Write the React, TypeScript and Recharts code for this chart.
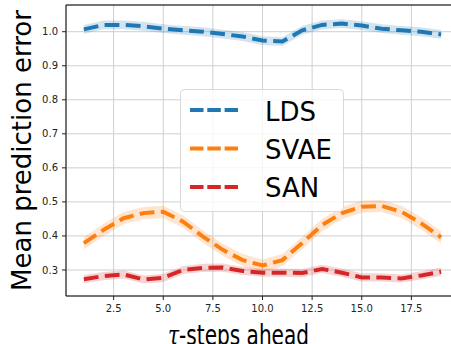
import {
  ComposedChart,
  Line,
  Area,
  CartesianGrid,
  XAxis,
  YAxis,
  ReferenceLine
} from 'recharts'

// tau steps ahead
const steps = [1, 2, 3, 4, 5, 6, 7, 8, 9, 10, 11, 12, 13, 14, 15, 16, 17, 18, 19]

const ldsValues = [1.007, 1.02, 1.02, 1.016, 1.009, 1.004, 1.0, 0.993, 0.986, 0.974, 0.971, 1.004, 1.02, 1.024, 1.018, 1.009, 1.004, 1.0, 0.992]
const svaeValues = [0.379, 0.418, 0.452, 0.467, 0.471, 0.442, 0.398, 0.359, 0.329, 0.313, 0.329, 0.379, 0.432, 0.467, 0.486, 0.488, 0.471, 0.437, 0.396]
const sanValues = [0.273, 0.282, 0.287, 0.272, 0.277, 0.3, 0.306, 0.307, 0.297, 0.292, 0.292, 0.291, 0.303, 0.292, 0.278, 0.278, 0.275, 0.284, 0.295]

// half width of the shaded band around each curve
const ldsSpread = 0.013
const svaeSpread = 0.018
const sanSpread = 0.012

const xTicks = [2.5, 5, 7.5, 10, 12.5, 15, 17.5]
const yTicks = [0.3, 0.4, 0.5, 0.6, 0.7, 0.8, 0.9, 1.0]

const seriesNames = ['LDS', 'SVAE', 'SAN']
const colors = ['#1f77b4', '#ff7f0e', '#d62728']

const data = steps.map((s, i) => ({
  step: s,
  lds: ldsValues[i],
  ldsBand: [ldsValues[i] - ldsSpread, ldsValues[i] + ldsSpread],
  svae: svaeValues[i],
  svaeBand: [svaeValues[i] - svaeSpread, svaeValues[i] + svaeSpread],
  san: sanValues[i],
  sanBand: [sanValues[i] - sanSpread, sanValues[i] + sanSpread]
}))

const font = 'DejaVu Sans'
const dash = '14.8 6.4'
const tickStyle = { fontSize: 10, fill: '#222', fontFamily: font }

export default function App () {
  return (
    <div style={{ position: 'absolute', left: 0, top: 0, width: 451, height: 344, overflow: 'hidden', background: '#fff' }}>
      <ComposedChart
        width={470}
        height={344}
        data={data}
        margin={{ top: 5, right: 11, bottom: 0, left: 0 }}
      >
        <CartesianGrid stroke='#cfcfcf' strokeWidth={1} />
        <XAxis
          dataKey='step'
          type='number'
          domain={[0.1, 19.9]}
          ticks={xTicks}
          tickFormatter={(v) => v.toFixed(1)}
          allowDataOverflow
          height={48}
          tickSize={4}
          tickMargin={5}
          tick={tickStyle}
          stroke='#000'
          tickLine={{ stroke: '#222' }}
        />
        <YAxis
          type='number'
          domain={[0.2235, 1.0785]}
          ticks={yTicks}
          tickFormatter={(v) => v.toFixed(1)}
          allowDataOverflow
          width={66}
          tickSize={4}
          tickMargin={4}
          tick={tickStyle}
          stroke='#000'
          tickLine={{ stroke: '#222' }}
        />
        <ReferenceLine y={1.0785} stroke='#000' strokeWidth={1.2} />
        <Area dataKey='ldsBand' type='linear' stroke='none' fill={colors[0]} fillOpacity={0.2} isAnimationActive={false} />
        <Area dataKey='svaeBand' type='linear' stroke='none' fill={colors[1]} fillOpacity={0.2} isAnimationActive={false} />
        <Area dataKey='sanBand' type='linear' stroke='none' fill={colors[2]} fillOpacity={0.2} isAnimationActive={false} />
        <Line dataKey='lds' type='linear' stroke={colors[0]} strokeWidth={4} strokeDasharray={dash} dot={false} isAnimationActive={false} />
        <Line dataKey='svae' type='linear' stroke={colors[1]} strokeWidth={4} strokeDasharray={dash} dot={false} isAnimationActive={false} />
        <Line dataKey='san' type='linear' stroke={colors[2]} strokeWidth={4} strokeDasharray={dash} dot={false} isAnimationActive={false} />
      </ComposedChart>
      <svg width={451} height={344} style={{ position: 'absolute', left: 0, top: 0, pointerEvents: 'none' }}>
        <text
          x={0}
          y={0}
          transform='translate(31 150.5) rotate(-90)'
          textAnchor='middle'
          fontFamily={font}
          fontSize={26}
          fill='#000'
        >
          Mean prediction error
        </text>
        <text
          x={168}
          y={345}
          textLength={141}
          lengthAdjust='spacingAndGlyphs'
          fontFamily={font}
          fontSize={28}
          fill='#000'
        >
          <tspan fontFamily='DejaVu Serif' fontStyle='italic'>τ</tspan>-steps ahead
        </text>
        <rect x={180.5} y={89.5} width={163} height={122} rx={4} fill='#fff' fillOpacity={0.8} stroke='#d9d9d9' />
        {seriesNames.map((name, i) => (
          <g key={name}>
            <line x1={190} x2={238} y1={110 + i * 38.5} y2={110 + i * 38.5} stroke={colors[i]} strokeWidth={4} strokeDasharray='13.5 3.8' />
            <text x={265} y={120.5 + i * 38} fontFamily={font} fontSize={26} fill='#000'>{name}</text>
          </g>
        ))}
      </svg>
    </div>
  )
}
